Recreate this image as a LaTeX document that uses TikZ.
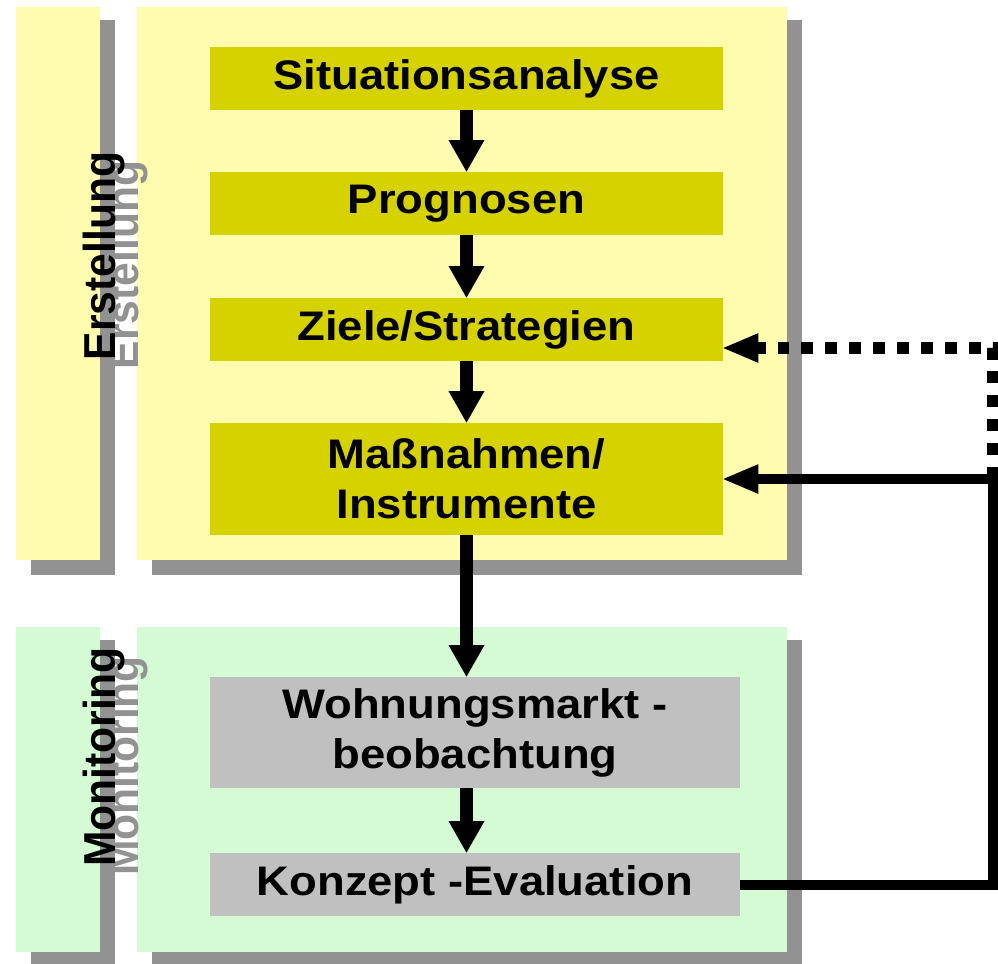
\documentclass[tikz,border=0pt]{standalone}
\usepackage{fontspec}
\newfontfamily\boxfont[FakeStretch=1.1]{Liberation Sans Bold}
\newfontfamily\sidefont[FakeStretch=0.95]{Liberation Sans Bold}
\usetikzlibrary{arrows.meta}
\definecolor{panelyellow}{HTML}{FFFCAF}
\definecolor{stepyellow}{HTML}{D5D200}
\definecolor{panelgreen}{HTML}{D4FBD4}
\definecolor{stepgray}{HTML}{C0C0C0}
\definecolor{shadowgray}{HTML}{929292}
\tikzset{stepbox/.style = {fill=stepyellow, minimum width=10.26cm, minimum height=1.26cm, inner sep=0pt,
                           align=center, font=\boxfont\fontsize{23.5}{28.5}\selectfont},
         checkbox/.style = {stepbox, fill=stepgray, minimum width=10.6cm},
         sidelabel/.style = {rotate=90, inner sep=0pt, font=\sidefont\fontsize{25.5}{30}\selectfont},
         flow/.style = {line width=7.4pt, -{Triangle[length=18pt, width=20.5pt, line width=0pt]}},
         back/.style = {line width=5.7pt, -{Triangle[length=20pt, width=17pt, line width=0pt]}},
         hint/.style = {back, dash pattern=on 6.8pt off 6.8pt, line width=6.8pt}}

\begin{document}
\begin{tikzpicture}[x=0.02cm, y=-0.02cm]
\useasboundingbox (0,0) rectangle (998,964);
\fill[shadowgray] (31,20) rectangle (115,575);
\fill[shadowgray] (152,20) rectangle (802,575);
\fill[shadowgray] (31,640) rectangle (115,980);
\fill[shadowgray] (152,640) rectangle (802,980);
\fill[panelyellow] (16,7) rectangle (100,560);
\fill[panelyellow] (137,7) rectangle (787,560);
\fill[panelgreen] (16,627) rectangle (100,952);
\fill[panelgreen] (137,627) rectangle (787,952);
\node[sidelabel, text=shadowgray] (erstshade) at (127,265) {Erstellung};
\node[sidelabel] (erst) at (104,256) {Erstellung};
\node[sidelabel, text=shadowgray] (monishade) at (127,766) {Monitoring};
\node[sidelabel] (moni) at (104,757) {Monitoring};
\node[stepbox] (sit) at (466.5,78.5) {Situationsanalyse};
\node[stepbox] (prog) at (466.5,203.5) {Prognosen};
\node[stepbox] (ziele) at (466.5,329.5) {Ziele/Strategien};
\node[stepbox, minimum height=2.24cm] (mass) at (466.5,479) {Maßnahmen/\\Instrumente};
\node[checkbox, minimum height=2.22cm] (wohn) at (475,732.5) {Wohnungsmarkt -\\beobachtung};
\node[checkbox] (konz) at (475,884.5) {Konzept -Evaluation};
\coordinate (rail) at (993,0);
\draw[flow] (sit) -- (prog);
\draw[flow] (prog) -- (ziele);
\draw[flow] (ziele) -- (mass);
\draw[flow] (mass.south) -- (mass.south |- wohn.north);
\draw[flow] (wohn.south -| mass.south) -- (konz.north -| mass.south);
\draw[hint] (rail |- mass.east) |- ([yshift=-0.37cm]ziele.east);
\draw[back] (konz.east) -| (rail |- mass.east) -- (mass.east);
\end{tikzpicture}
\end{document}
